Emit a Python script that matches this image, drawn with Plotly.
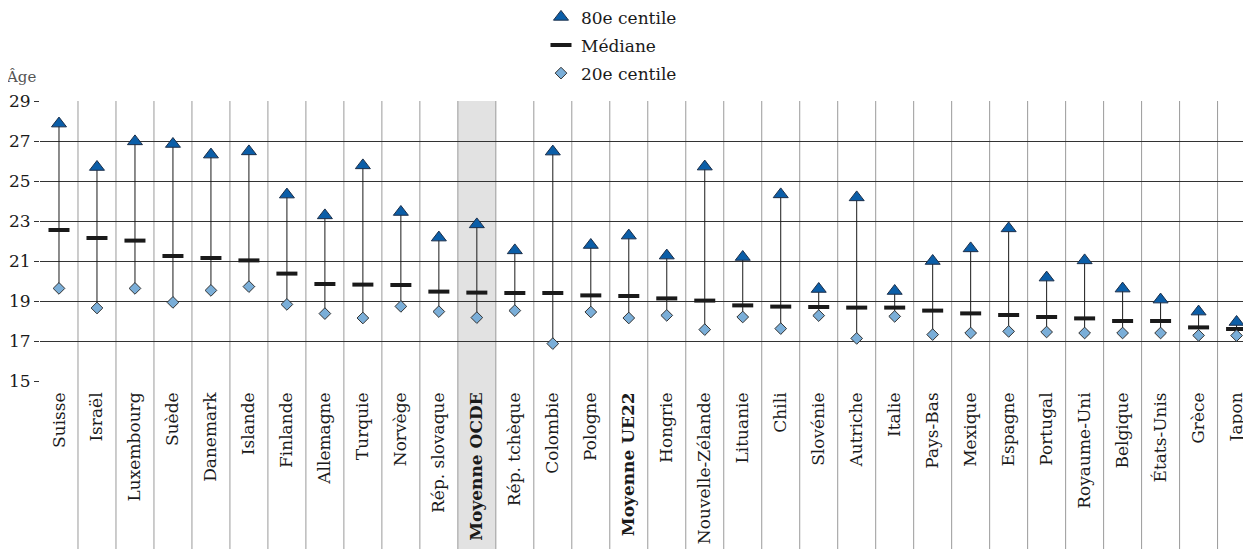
import plotly.graph_objects as go

categories = ["Suisse", "Israël", "Luxembourg", "Suède", "Danemark", "Islande", "Finlande",
              "Allemagne", "Turquie", "Norvège", "Rép. slovaque", "Moyenne OCDE", "Rép. tchèque",
              "Colombie", "Pologne", "Moyenne UE22", "Hongrie", "Nouvelle-Zélande", "Lituanie",
              "Chili", "Slovénie", "Autriche", "Italie", "Pays-Bas", "Mexique", "Espagne",
              "Portugal", "Royaume-Uni", "Belgique", "États-Unis", "Grèce", "Japon"]

p80 = [27.87, 25.70, 26.98, 26.85, 26.32, 26.48, 24.32, 23.28, 25.78, 23.45, 22.17, 22.83,
       21.53, 26.47, 21.80, 22.27, 21.27, 25.72, 21.20, 24.33, 19.60, 24.18, 19.50, 21.00,
       21.63, 22.63, 20.17, 21.03, 19.62, 19.07, 18.47, 17.95]
median = [22.55, 22.15, 22.02, 21.25, 21.15, 21.03, 20.37, 19.85, 19.82, 19.80, 19.47, 19.42,
          19.40, 19.40, 19.28, 19.25, 19.13, 19.02, 18.78, 18.72, 18.70, 18.67, 18.67, 18.52,
          18.38, 18.30, 18.20, 18.13, 18.00, 18.00, 17.68, 17.60]
p20 = [19.63, 18.65, 19.63, 18.93, 19.53, 19.72, 18.83, 18.37, 18.15, 18.73, 18.47, 18.17,
       18.52, 16.87, 18.45, 18.15, 18.28, 17.57, 18.20, 17.62, 18.27, 17.13, 18.23, 17.32,
       17.40, 17.48, 17.45, 17.40, 17.40, 17.40, 17.28, 17.27]

bold_cats = ["Moyenne OCDE", "Moyenne UE22"]
shaded_cat = "Moyenne OCDE"
y_ticks = [15, 17, 19, 21, 23, 25, 27, 29]

FONT = "DejaVu Serif"

fig = go.Figure()

# connectors
lx, ly = [], []
for c, lo, hi in zip(categories, p20, p80):
    lx += [c, c, None]
    ly += [lo, hi, None]
fig.add_trace(go.Scatter(x=lx, y=ly, mode="lines", line=dict(color="#1a1a1a", width=1),
                         showlegend=False, hoverinfo="skip"))

fig.add_trace(go.Scatter(x=categories, y=p80, mode="markers", name="80e centile",
                         legendgroup="a",
                         marker=dict(symbol="triangle-up", size=13, color="#0b5ea8",
                                     line=dict(color="#1c2f4a", width=1))))
fig.add_trace(go.Scatter(x=categories, y=median, mode="markers", name="Médiane",
                         legendgroup="b",
                         marker=dict(symbol="line-ew", size=15, color="#1a1a1a",
                                     line=dict(color="#1a1a1a", width=4))))
fig.add_trace(go.Scatter(x=categories, y=p20, mode="markers", name="20e centile",
                         legendgroup="c",
                         marker=dict(symbol="diamond", size=9, color="#7aaed8",
                                     line=dict(color="#333333", width=1))))

shapes = []
si = categories.index(shaded_cat)
shapes.append(dict(type="rect", xref="x", yref="paper", x0=si - 0.5, x1=si + 0.5,
                   y0=-0.6, y1=1, fillcolor="#e2e2e2", line=dict(width=0), layer="below"))
for i in range(len(categories) - 1):
    shapes.append(dict(type="line", xref="x", yref="paper", x0=i + 0.5, x1=i + 0.5,
                       y0=-0.6, y1=1, line=dict(color="#9a9a9a", width=1), layer="below"))

ticktext = [f"<b>{c}</b>" if c in bold_cats else c for c in categories]

# page body has an 8px margin: figure is sized/margined to compensate
fig.update_layout(
    width=1243, height=541,
    margin=dict(l=32, r=0, t=93, b=168, autoexpand=False),
    plot_bgcolor="white", paper_bgcolor="white",
    font=dict(family=FONT, size=17, color="#1a1a1a"),
    shapes=shapes,
    showlegend=True,
    legend=dict(x=0.4137, y=1.363, xanchor="left", yanchor="top",
                traceorder="grouped", tracegroupgap=3,
                font=dict(family=FONT, size=17, color="#1a1a1a"),
                bgcolor="rgba(0,0,0,0)"),
    xaxis=dict(type="category", categoryorder="array", categoryarray=categories,
               tickvals=categories, ticktext=ticktext, tickangle=-90,
               range=[-0.5, 31.38], showgrid=False, zeroline=False, showline=False,
               ticks="", ticklabelstandoff=7, automargin=False,
               tickfont=dict(family=FONT, size=17, color="#1a1a1a")),
    yaxis=dict(range=[15, 29], tickvals=y_ticks, showgrid=True, gridcolor="#333333",
               gridwidth=1, zeroline=False, showline=False, ticks="outside", ticklen=5,
               tickcolor="#333333", automargin=False,
               tickfont=dict(family=FONT, size=17, color="#1a1a1a")),
    annotations=[dict(text="Âge", xref="paper", yref="paper", x=-0.0297, y=1.086,
                      xanchor="left", yanchor="middle", showarrow=False,
                      font=dict(family=FONT, size=15, color="#555555"))],
)

fig.write_html("out.html")
